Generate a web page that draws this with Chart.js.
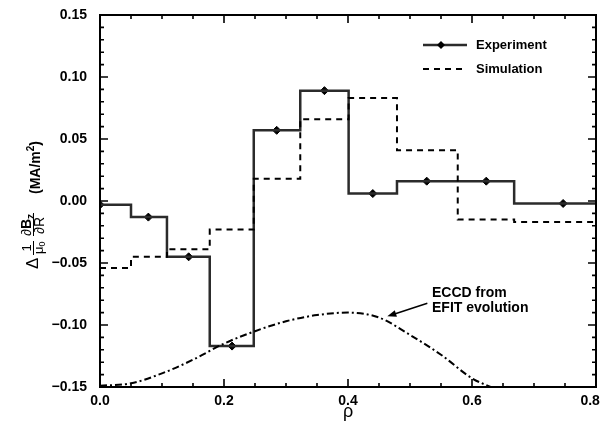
<!DOCTYPE html>
<html>
<head>
<meta charset="utf-8">
<script src="https://cdn.jsdelivr.net/npm/chart.js@4/dist/chart.umd.min.js"></script>
<style>
  html, body { margin: 0; padding: 0; background: #fff; }
  #wrap { width: 601px; height: 434px; }
</style>
</head>
<body>
<div id="wrap"><canvas id="chart"></canvas></div>
<script>
// === Data ===
const rhoEdges = [0, 0.05, 0.108, 0.177, 0.248, 0.323, 0.401, 0.479, 0.577, 0.668, 0.8];
const expValues = [-0.003, -0.013, -0.045, -0.117, 0.057, 0.089, 0.006, 0.016, 0.016, -0.002];
const simValues = [-0.054, -0.045, -0.039, -0.023, 0.018, 0.066, 0.083, 0.041, -0.015, -0.017];
const expPointRho = [0, 0.078, 0.143, 0.213, 0.285, 0.362, 0.44, 0.527, 0.623, 0.747];
const expPointValues = [-0.003, -0.013, -0.045, -0.117, 0.057, 0.089, 0.006, 0.016, 0.016, -0.002];
const eccdRho = [0, 0.05, 0.1, 0.15, 0.2, 0.25, 0.3, 0.35, 0.4, 0.45, 0.5, 0.55, 0.6, 0.63];
const eccdValues = [-0.149, -0.147, -0.139, -0.128, -0.115, -0.105, -0.097, -0.092, -0.090, -0.094, -0.108, -0.124, -0.143, -0.150];
const xTicks = [0, 0.2, 0.4, 0.6, 0.8];
const yTicks = [-0.15, -0.10, -0.05, 0, 0.05, 0.10, 0.15];
const legendLabels = ["Experiment", "Simulation"];
const noteLines = ["ECCD from", "EFIT evolution"];

// === Styling ===
const props = {
    font: "'Liberation Sans', Arial, Helvetica, sans-serif",
    expColor: "#2b2b2b",
    ink: "#000",
    majorTick: 8,
    minorTick: 4,
};

function stepPoints(edges, values) {
    const pts = values.map((v, i) => ({ x: edges[i], y: v }));
    pts.push({ x: edges[edges.length - 1], y: values[values.length - 1] });
    return pts;
}

function fmtY(v) {
    if (Math.abs(v) < 1e-9) return "0.00";
    const s = Math.abs(v).toFixed(2);
    return v < 0 ? "\u2212" + s : s;
}

// last x label sits at the canvas edge, nudge it left a little
function fmtX(v) {
    return v >= 0.8 ? v.toFixed(1) + "   " : v.toFixed(1);
}

// frame, inward ticks on all four sides, legend, y label and annotation
const decorations = {
    id: "decorations",
    afterDatasetsDraw(chart) {
        const { ctx, chartArea: a, scales: { x, y } } = chart;
        ctx.save();
        ctx.strokeStyle = props.ink;
        ctx.lineWidth = 2;
        ctx.strokeRect(a.left, a.top, a.right - a.left, a.bottom - a.top);

        ctx.lineWidth = 1.6;
        ctx.beginPath();
        for (let i = 0; i <= 16; i++) {
            const px = x.getPixelForValue(i * 0.05);
            const len = i % 4 === 0 ? props.majorTick : props.minorTick;
            ctx.moveTo(px, a.bottom); ctx.lineTo(px, a.bottom - len);
            ctx.moveTo(px, a.top); ctx.lineTo(px, a.top + len);
        }
        for (let i = 0; i <= 30; i++) {
            const py = y.getPixelForValue(-0.15 + i * 0.01);
            const len = i % 5 === 0 ? props.majorTick : props.minorTick;
            ctx.moveTo(a.left, py); ctx.lineTo(a.left + len, py);
            ctx.moveTo(a.right, py); ctx.lineTo(a.right - len, py);
        }
        ctx.stroke();

        // legend
        const lx0 = a.left + 323, lx1 = a.left + 367, ltx = a.left + 376;
        const ly = [a.top + 30, a.top + 54];
        ctx.fillStyle = props.ink;
        ctx.font = "bold 13px " + props.font;
        ctx.textBaseline = "middle";
        ctx.textAlign = "left";
        ctx.strokeStyle = props.expColor;
        ctx.lineWidth = 2.5;
        ctx.beginPath(); ctx.moveTo(lx0, ly[0]); ctx.lineTo(lx1, ly[0]); ctx.stroke();
        ctx.beginPath();
        const mx = lx0 + 18;
        ctx.moveTo(mx, ly[0] - 4); ctx.lineTo(mx + 4, ly[0]); ctx.lineTo(mx, ly[0] + 4); ctx.lineTo(mx - 4, ly[0]);
        ctx.closePath(); ctx.fillStyle = props.ink; ctx.fill();
        ctx.strokeStyle = props.ink;
        ctx.lineWidth = 2;
        ctx.setLineDash([6, 5]);
        ctx.beginPath(); ctx.moveTo(lx0, ly[1]); ctx.lineTo(lx1, ly[1]); ctx.stroke();
        ctx.setLineDash([]);
        legendLabels.forEach((t, i) => ctx.fillText(t, ltx, ly[i]));

        // annotation with arrow
        ctx.font = "bold 14px " + props.font;
        const tx = x.getPixelForValue(0.5355);
        ctx.fillText(noteLines[0], tx, y.getPixelForValue(-0.0742));
        ctx.fillText(noteLines[1], tx, y.getPixelForValue(-0.0863));
        const ax0 = x.getPixelForValue(0.528), ay0 = y.getPixelForValue(-0.0825);
        const ax1 = x.getPixelForValue(0.4634), ay1 = y.getPixelForValue(-0.093);
        const ang = Math.atan2(ay1 - ay0, ax1 - ax0);
        ctx.lineWidth = 1.5;
        ctx.beginPath(); ctx.moveTo(ax0, ay0); ctx.lineTo(ax1 - 6 * Math.cos(ang), ay1 - 6 * Math.sin(ang)); ctx.stroke();
        ctx.beginPath();
        ctx.moveTo(ax1, ay1);
        ctx.lineTo(ax1 - 9 * Math.cos(ang) + 3.5 * Math.sin(ang), ay1 - 9 * Math.sin(ang) - 3.5 * Math.cos(ang));
        ctx.lineTo(ax1 - 9 * Math.cos(ang) - 3.5 * Math.sin(ang), ay1 - 9 * Math.sin(ang) + 3.5 * Math.cos(ang));
        ctx.closePath(); ctx.fill();

        // rotated y-axis label: Δ (1/μ0)(∂Bz/∂R) (MA/m²)
        ctx.translate(41, 205);
        ctx.rotate(-Math.PI / 2);
        ctx.textBaseline = "alphabetic";
        ctx.lineWidth = 1;
        ctx.font = "17px " + props.font;
        ctx.fillText("\u0394", -64, -3);
        // 1 / μ0
        ctx.beginPath(); ctx.moveTo(-50, -7.5); ctx.lineTo(-36, -7.5); ctx.stroke();
        ctx.font = "13px " + props.font;
        ctx.textAlign = "center";
        ctx.fillText("1", -43, -10);
        ctx.textAlign = "left";
        ctx.fillText("\u03bc", -49, 1.5);
        let px = -49 + ctx.measureText("\u03bc").width;
        ctx.font = "9px " + props.font;
        ctx.fillText("0", px, 3.5);
        // ∂Bz / ∂R
        ctx.beginPath(); ctx.moveTo(-31, -7.5); ctx.lineTo(-8, -7.5); ctx.stroke();
        ctx.font = "14px " + props.font;
        px = -31;
        ctx.fillText("\u2202", px, -10);
        px += ctx.measureText("\u2202").width;
        ctx.font = "bold 14px " + props.font;
        ctx.fillText("B", px, -10);
        px += ctx.measureText("B").width;
        ctx.font = "bold 10px " + props.font;
        ctx.fillText("z", px, -7);
        ctx.font = "14px " + props.font;
        ctx.fillText("\u2202R", -29, 3);
        // units
        ctx.font = "bold 14px " + props.font;
        let ux = 11;
        ctx.fillText("(MA/m", ux, -1);
        ux += ctx.measureText("(MA/m").width;
        ctx.font = "bold 10px " + props.font;
        ctx.fillText("2", ux, -7);
        ux += ctx.measureText("2").width;
        ctx.font = "bold 14px " + props.font;
        ctx.fillText(")", ux, -1);
        ctx.restore();
    }
};

const chart = new Chart(document.getElementById("chart"), {
    type: "scatter",
    data: {
        datasets: [{
            label: "ECCD",
            data: eccdRho.map((r, i) => ({ x: r, y: eccdValues[i] })),
            showLine: true,
            borderColor: props.ink,
            borderWidth: 2,
            borderDash: [7, 3, 2, 3],
            cubicInterpolationMode: "monotone",
            pointRadius: 0,
        }, {
            label: "Simulation",
            data: stepPoints(rhoEdges, simValues),
            showLine: true,
            stepped: "before",
            borderColor: props.ink,
            borderWidth: 2,
            borderDash: [6, 5],
            pointRadius: 0,
        }, {
            label: "Experiment",
            data: stepPoints(rhoEdges, expValues),
            showLine: true,
            stepped: "before",
            borderColor: props.expColor,
            borderWidth: 2.5,
            pointRadius: 0,
        }, {
            label: "Experiment points",
            data: expPointRho.map((r, i) => ({ x: r, y: expPointValues[i] })),
            pointStyle: "rectRot",
            pointRadius: 4,
            backgroundColor: props.ink,
            borderColor: props.ink,
            borderWidth: 1,
        }]
    },
    options: {
        responsive: true,
        maintainAspectRatio: false,
        animation: false,
        layout: { padding: { left: 0, right: 5, top: 15, bottom: 0 } },
        plugins: { legend: { display: false }, tooltip: { enabled: false } },
        scales: {
            x: {
                type: "linear",
                min: 0,
                max: 0.8,
                afterBuildTicks: s => { s.ticks = xTicks.map(v => ({ value: v })); },
                afterFit: s => { s.height = 47; s.paddingLeft = 0; s.paddingRight = 0; },
                ticks: {
                    callback: v => fmtX(v),
                    color: props.ink,
                    font: { family: props.font, size: 14, weight: "bold" },
                    padding: 6,
                    maxRotation: 0,
                },
                grid: { display: false, drawTicks: false },
                border: { display: false },
                title: {
                    display: true,
                    text: "\u03c1",
                    color: props.ink,
                    font: { family: props.font, size: 18 },
                    padding: { top: 0, bottom: 11 },
                },
            },
            y: {
                min: -0.15,
                max: 0.15,
                afterBuildTicks: s => { s.ticks = yTicks.map(v => ({ value: v })); },
                afterFit: s => { s.width = 100; s.paddingTop = 0; s.paddingBottom = 0; },
                ticks: {
                    callback: v => fmtY(v),
                    color: props.ink,
                    font: { family: props.font, size: 14, weight: "bold" },
                    padding: 13,
                },
                grid: { display: false, drawTicks: false },
                border: { display: false },
            }
        }
    },
    plugins: [decorations]
});
</script>
</body>
</html>
